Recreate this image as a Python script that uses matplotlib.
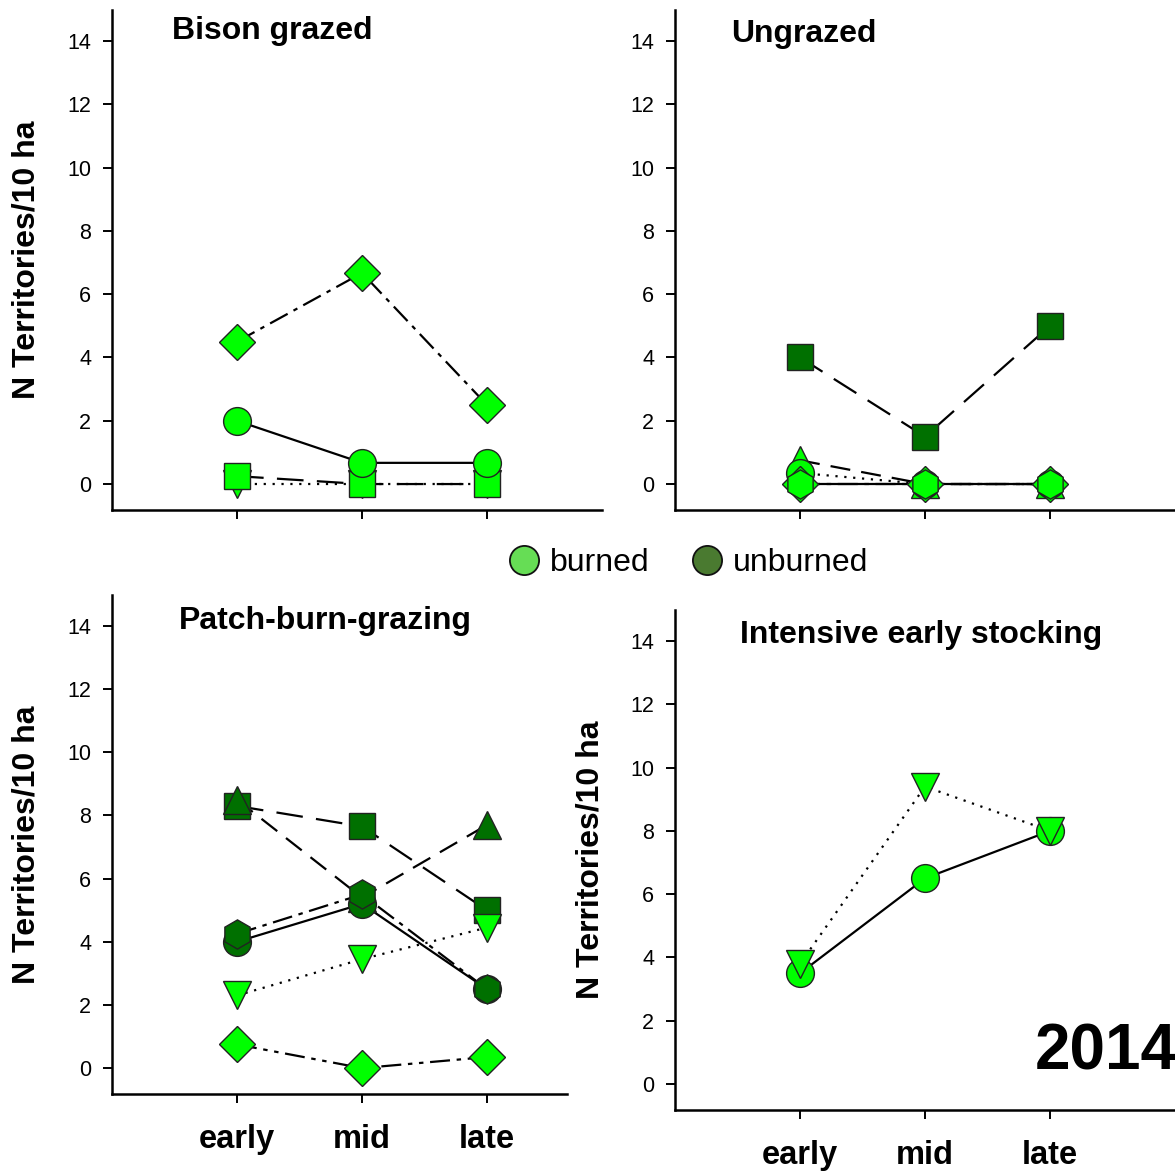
import matplotlib
matplotlib.use("Agg")
import matplotlib.pyplot as plt
from matplotlib.lines import Line2D

plt.rcParams['font.family'] = ['Liberation Sans', 'DejaVu Sans']

periods = ['early', 'mid', 'late']
xpos = [1, 2, 3]

# Bison grazed
bison_diamond = [4.5, 6.67, 2.5]
bison_circle = [2.0, 0.67, 0.67]
bison_square = [0.25, 0.0, 0.0]
bison_tridown = [0.0, 0.0, 0.0]

# Ungrazed
ungr_square = [4.0, 1.5, 5.0]
ungr_triangle = [0.75, 0.0, 0.0]
ungr_circle = [0.35, 0.0, 0.0]
ungr_hexagon = [0.0, 0.0, 0.0]
ungr_diamond = [0.0, 0.0, 0.0]

# Patch-burn-grazing
pbg_triangle = [8.5, 5.4, 7.7]
pbg_square = [8.3, 7.65, 5.0]
pbg_hexagon = [4.25, 5.5, 2.5]
pbg_circle = [4.0, 5.2, 2.5]
pbg_tridown = [2.3, 3.45, 4.45]
pbg_diamond = [0.75, 0.0, 0.35]

# Intensive early stocking
ies_circle = [3.5, 6.5, 8.0]
ies_tridown = [3.8, 9.4, 8.0]

BRIGHT = '#00ff00'
DARK = '#007000'

DASH = (0, (9, 5))
LONGDASH = (0, (12, 6))
DASHDOT = (0, (9, 3, 2, 3))
DASHDOTDOT = (0, (9, 3, 2, 3, 2, 3))
DOT = (0, (1, 3))

MS = {'o': 20, 's': 18.5, 'D': 18, '^': 20, 'v': 20, 'h': 21}


def draw(ax, vals, marker, color, ls):
    ax.plot(xpos, vals, color='black', lw=1.6, ls=ls, zorder=2)
    ax.plot(xpos, vals, ls='none', marker=marker, ms=MS[marker],
            mfc=color, mec='#222222', mew=1.0, zorder=3)


def style(ax, xmax, title, tx, ty, ylab=True, xlabels=False):
    ax.set_xlim(0, xmax)
    ax.set_ylim(-0.82, 14.98)
    ax.set_yticks(range(0, 15, 2))
    ax.set_xticks(xpos)
    for s in ['top', 'right']:
        ax.spines[s].set_visible(False)
    for s in ['left', 'bottom']:
        ax.spines[s].set_linewidth(1.8)
    ax.tick_params(direction='out', length=6.5, width=1.4, labelsize=15.5)
    ax.tick_params(axis='y', pad=8.5)
    if xlabels:
        ax.set_xticklabels(periods, fontsize=23.5, fontweight='bold')
        ax.tick_params(axis='x', pad=15)
    else:
        ax.set_xticklabels([])
    if ylab:
        ax.set_ylabel('N Territories/10 ha', fontsize=23, fontweight='bold')
        ax.yaxis.set_label_coords(-70 / ax.bbox.width, 0.5)
    ax.text(tx, ty, title, transform=ax.transAxes, ha='center', va='center',
            fontsize=23, fontweight='bold')


fig = plt.figure(figsize=(11.75, 11.73), dpi=100)
W, H = 1175, 1173


def add_axes(x0, x1, ytop, ybot):
    return fig.add_axes([x0 / W, 1 - ybot / H, (x1 - x0) / W, (ybot - ytop) / H])


ax1 = add_axes(112, 602, 10, 510)
ax2 = add_axes(675, 1175, 10, 510)
ax3 = add_axes(112, 567, 595, 1094)
ax4 = add_axes(675, 1175, 610, 1110)

# Bison grazed
draw(ax1, bison_tridown, 'v', BRIGHT, DOT)
draw(ax1, bison_square, 's', BRIGHT, LONGDASH)
draw(ax1, bison_circle, 'o', BRIGHT, '-')
draw(ax1, bison_diamond, 'D', BRIGHT, DASHDOT)
style(ax1, 3.92, 'Bison grazed', 0.327, 0.958)

# Ungrazed
draw(ax2, ungr_square, 's', DARK, LONGDASH)
draw(ax2, ungr_triangle, '^', BRIGHT, DASH)
draw(ax2, ungr_circle, 'o', BRIGHT, DOT)
draw(ax2, ungr_diamond, 'D', BRIGHT, DASHDOT)
draw(ax2, ungr_hexagon, 'h', BRIGHT, '-')
style(ax2, 4.0, 'Ungrazed', 0.258, 0.952, ylab=False)

# Patch-burn-grazing
draw(ax3, pbg_square, 's', DARK, LONGDASH)
draw(ax3, pbg_triangle, '^', DARK, DASH)
draw(ax3, pbg_circle, 'o', DARK, '-')
draw(ax3, pbg_hexagon, 'h', DARK, DASHDOT)
draw(ax3, pbg_tridown, 'v', BRIGHT, DOT)
draw(ax3, pbg_diamond, 'D', BRIGHT, DASHDOTDOT)
style(ax3, 3.64, 'Patch-burn-grazing', 0.468, 0.948, xlabels=True)

# Intensive early stocking
draw(ax4, ies_circle, 'o', BRIGHT, '-')
draw(ax4, ies_tridown, 'v', BRIGHT, DOT)
style(ax4, 4.0, 'Intensive early stocking', 0.492, 0.950, xlabels=True)

handles = [
    Line2D([], [], ls='none', marker='o', ms=21, mfc='#66dd55', mec='#111111', mew=1.3),
    Line2D([], [], ls='none', marker='o', ms=21, mfc='#4a7a30', mec='#111111', mew=1.3),
]
fig.legend(handles, ['burned', 'unburned'], loc='center',
           bbox_to_anchor=(688 / W, 1 - 563 / H), ncol=2, frameon=False,
           fontsize=23, handletextpad=0.3, columnspacing=1.3, handlelength=1.0)

fig.text(1035 / W, 1 - 1052 / H, '2014', ha='left', va='center',
         fontsize=46, fontweight='bold')

fig.savefig('out.png', dpi=100)
